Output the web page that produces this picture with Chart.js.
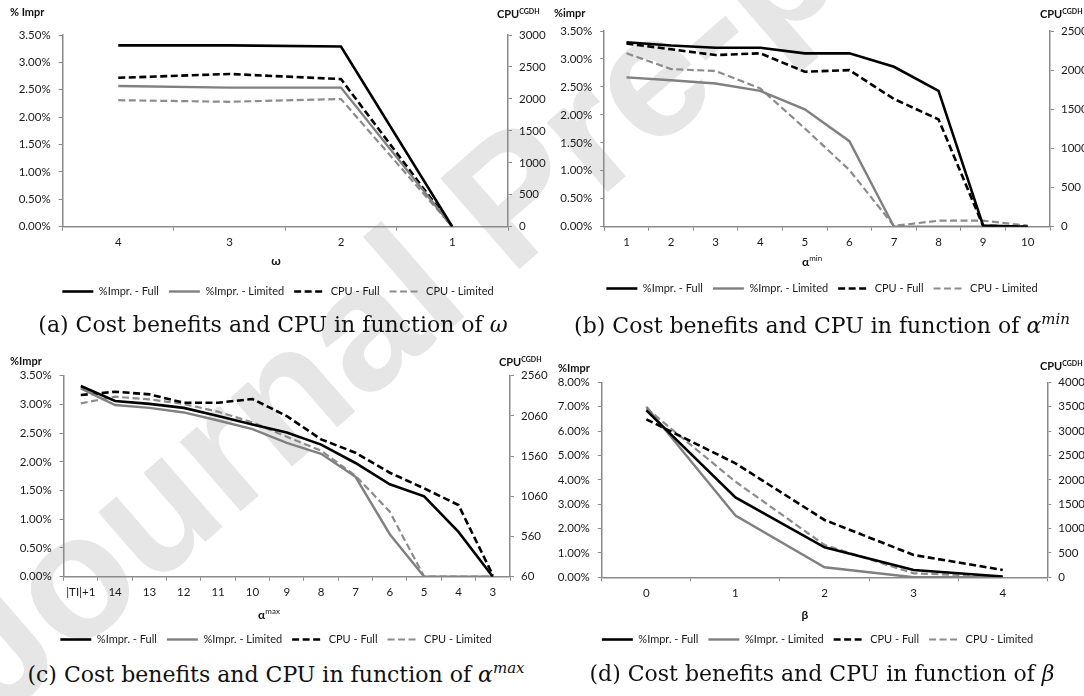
<!DOCTYPE html>
<html>
<head>
<meta charset="utf-8">
<script src="https://cdn.jsdelivr.net/npm/chart.js@4.4.1/dist/chart.umd.min.js"></script>
<style>
  body { margin: 0; background: #fff; }
  #page { position: relative; width: 1084px; height: 696px; overflow: hidden; background: #fff; }
  .wm { position: absolute; left: 511px; top: 196px; transform: translate(-50%, -50%) rotate(-41deg);
        font: bold 175px "Liberation Sans", Arial, sans-serif; color: #e6e6e6; white-space: nowrap; z-index: 0; }
  canvas { position: absolute; z-index: 1; }
  .lab { position: absolute; z-index: 2; font: bold 11px Lato, sans-serif; color: #111; white-space: nowrap;
         transform: translateY(-50%); }
  .lab sup { font-size: 7px; vertical-align: 4px; }
  .xt { transform: translate(-50%, -50%); font-size: 12px; }
  .xt sup { font-size: 8px; vertical-align: 5px; font-weight: normal; }
  .cap { position: absolute; z-index: 2; font: 22px "DejaVu Serif", serif; color: #111; white-space: nowrap;
         transform: translate(-50%, -50%); }
  .cap sup { font-size: 15px; vertical-align: 9px; }
</style>
</head>
<body>
<div id="page">
  <div class="wm">Journal Pre-proof</div>

  <div class="lab" style="left:10px; top:11px">% Impr</div>
  <div class="lab" style="left:497px; top:13px">CPU<sup>CGDH</sup></div>
  <div class="lab" style="left:554px; top:12px">%impr</div>
  <div class="lab" style="left:1040px; top:13px">CPU<sup>CGDH</sup></div>
  <div class="lab" style="left:10px; top:360px">%Impr</div>
  <div class="lab" style="left:499px; top:361px">CPU<sup>CGDH</sup></div>
  <div class="lab" style="left:558px; top:367px">%Impr</div>
  <div class="lab" style="left:1040px; top:365px">CPU<sup>CGDH</sup></div>

  <div class="lab xt" style="left:276px; top:260px">ω</div>
  <div class="lab xt" style="left:812px; top:261px">α<sup>min</sup></div>
  <div class="lab xt" style="left:269px; top:614px">α<sup>max</sup></div>
  <div class="lab xt" style="left:805px; top:614px">β</div>

  <div class="cap" style="left:273px; top:324px">(a) Cost benefits and CPU in function of <i>ω</i></div>
  <div class="cap" style="left:822px; top:324px">(b) Cost benefits and CPU in function of <i>α<sup>min</sup></i></div>
  <div class="cap" style="left:276px; top:673px">(c) Cost benefits and CPU in function of <i>α<sup>max</sup></i></div>
  <div class="cap" style="left:822px; top:673px">(d) Cost benefits and CPU in function of <i>β</i></div>
</div>

<script>
// (a) omega
const omegaLabels = ['4', '3', '2', '1'];
const omegaImprFull = [3.31, 3.31, 3.29, 0];
const omegaImprLimited = [2.57, 2.54, 2.54, 0];
const omegaCpuFull = [2330, 2390, 2310, 0];
const omegaCpuLimited = [1980, 1955, 1998, 0];
const omegaPctTicks = [0, 0.5, 1, 1.5, 2, 2.5, 3, 3.5];
const omegaCpuTicks = [0, 500, 1000, 1500, 2000, 2500, 3000];

// (b) alpha min
const aminLabels = ['1', '2', '3', '4', '5', '6', '7', '8', '9', '10'];
const aminImprFull = [3.30, 3.24, 3.20, 3.20, 3.10, 3.10, 2.86, 2.43, 0.02, 0];
const aminImprLimited = [2.67, 2.62, 2.56, 2.43, 2.10, 1.53, 0, 0, 0, 0];
const aminCpuFull = [2340, 2266, 2193, 2215, 1980, 2000, 1631, 1371, 10, 0];
const aminCpuLimited = [2215, 2014, 1989, 1767, 1256, 724, 10, 77, 77, 13];
const aminPctTicks = [0, 0.5, 1, 1.5, 2, 2.5, 3, 3.5];
const aminCpuTicks = [0, 500, 1000, 1500, 2000, 2500];

// (c) alpha max
const amaxLabels = ['|TI|+1', '14', '13', '12', '11', '10', '9', '8', '7', '6', '5', '4', '3'];
const amaxImprFull = [3.32, 3.06, 3.01, 2.94, 2.80, 2.65, 2.51, 2.30, 1.98, 1.61, 1.40, 0.78, 0];
const amaxImprLimited = [3.28, 2.99, 2.94, 2.86, 2.72, 2.57, 2.33, 2.14, 1.74, 0.74, 0, 0, 0];
const amaxCpuFull = [2319, 2361, 2328, 2224, 2224, 2270, 2058, 1768, 1602, 1353, 1159, 951, 81];
const amaxCpuLimited = [2216, 2299, 2266, 2208, 2112, 1980, 1801, 1627, 1316, 868, 60, 60, 60];
const amaxPctTicks = [0, 0.5, 1, 1.5, 2, 2.5, 3, 3.5];
const amaxCpuTicks = [60, 560, 1060, 1560, 2060, 2560];

// (d) beta
const betaLabels = ['0', '1', '2', '3', '4'];
const betaImprFull = [6.85, 3.28, 1.23, 0.30, 0.03];
const betaImprLimited = [7.00, 2.53, 0.41, 0, 0];
const betaCpuFull = [3241, 2338, 1176, 458, 150];
const betaCpuLimited = [3467, 1962, 663, 82, 14];
const betaPctTicks = [0, 1, 2, 3, 4, 5, 6, 7, 8];
const betaCpuTicks = [0, 500, 1000, 1500, 2000, 2500, 3000, 3500, 4000];

const AXIS = '#8a8a8a';
const TEXT = '#1a1a1a';
const FONT = 'Lato, sans-serif';

const panels = [
  { labels: omegaLabels, series: [omegaImprFull, omegaImprLimited, omegaCpuFull, omegaCpuLimited],
    pct: omegaPctTicks, cpu: omegaCpuTicks,
    box: { left: 0, top: 0, width: 550 }, area: { left: 62.6, right: 508, top: 35, bottom: 226.7 },
    legendY: 291, padLeft: 6 },
  { labels: aminLabels, series: [aminImprFull, aminImprLimited, aminCpuFull, aminCpuLimited],
    pct: aminPctTicks, cpu: aminCpuTicks,
    box: { left: 540, top: 0, width: 544 }, area: { left: 604.2, right: 1050, top: 31, bottom: 226.7 },
    legendY: 288.3, padLeft: 20 },
  { labels: amaxLabels, series: [amaxImprFull, amaxImprLimited, amaxCpuFull, amaxCpuLimited],
    pct: amaxPctTicks, cpu: amaxCpuTicks,
    box: { left: 0, top: 330, width: 550 }, area: { left: 63.6, right: 510, top: 375.7, bottom: 576.7 },
    legendY: 639, padLeft: 2 },
  { labels: betaLabels, series: [betaImprFull, betaImprLimited, betaCpuFull, betaCpuLimited],
    pct: betaPctTicks, cpu: betaCpuTicks,
    box: { left: 540, top: 330, width: 544 }, area: { left: 601.8, right: 1047.3, top: 382.3, bottom: 577.3 },
    legendY: 639, padLeft: 11 }
];

// legend samples drawn as short lines with the dataset's own dash
function lineLabels(chart) {
  const items = Chart.defaults.plugins.legend.labels.generateLabels(chart);
  items.forEach(it => {
    const ds = chart.data.datasets[it.datasetIndex];
    it.pointStyle = 'line';
    it.lineDash = ds.borderDash;
    it.lineWidth = ds.borderWidth;
    it.strokeStyle = ds.borderColor;
  });
  return items;
}

function makePanel(p) {
  const page = document.getElementById('page');
  const canvas = document.createElement('canvas');
  const height = Math.round(p.legendY - p.box.top + 15.5);
  const legendH = 31;
  const xHeight = height - legendH - (p.area.bottom - p.box.top);
  const leftW = p.area.left - p.box.left - p.padLeft;
  const rightW = p.box.left + p.box.width - p.area.right;
  canvas.width = p.box.width;
  canvas.height = height;
  canvas.style.left = p.box.left + 'px';
  canvas.style.top = p.box.top + 'px';
  canvas.style.width = p.box.width + 'px';
  canvas.style.height = height + 'px';
  page.appendChild(canvas);

  const styles = [
    { label: '%Impr. - Full', color: '#000000', width: 2.6, dash: [], axis: 'y' },
    { label: '%Impr. - Limited', color: '#808080', width: 2.4, dash: [], axis: 'y' },
    { label: 'CPU - Full', color: '#000000', width: 2.6, dash: [7, 3.5], axis: 'y1' },
    { label: 'CPU - Limited', color: '#8c8c8c', width: 2.2, dash: [7, 3.5], axis: 'y1' }
  ];

  const tickFont = { family: FONT, size: 11.5 };
  const grid = { drawOnChartArea: false, drawTicks: true, tickLength: 4, color: AXIS, lineWidth: 1 };
  const border = { display: true, color: AXIS, width: 1.5 };

  new Chart(canvas, {
    type: 'line',
    data: {
      labels: p.labels,
      datasets: styles.map((s, i) => ({
        label: s.label,
        data: p.series[i],
        yAxisID: s.axis,
        borderColor: s.color,
        backgroundColor: s.color,
        borderWidth: s.width,
        borderDash: s.dash,
        pointRadius: 0,
        tension: 0,
        fill: false
      }))
    },
    options: {
      responsive: false,
      animation: false,
      events: [],
      layout: { padding: { top: p.area.top - p.box.top, left: p.padLeft, right: 0, bottom: 0 } },
      plugins: {
        tooltip: { enabled: false },
        title: { display: false },
        legend: {
          position: 'bottom',
          labels: {
            usePointStyle: true,
            pointStyle: 'line',
            pointStyleWidth: 31,
            padding: 10,
            color: TEXT,
            font: { family: FONT, size: 11 },
            generateLabels: lineLabels
          }
        }
      },
      scales: {
        x: {
          type: 'category',
          offset: true,
          grid: Object.assign({ offset: true }, grid),
          border: border,
          ticks: { color: TEXT, font: tickFont, padding: 5, autoSkip: false, maxRotation: 0 },
          afterFit: s => { s.height = xHeight; }
        },
        y: {
          position: 'left',
          min: p.pct[0],
          max: p.pct[p.pct.length - 1],
          grid: grid,
          border: border,
          ticks: { color: TEXT, font: tickFont, padding: 8, callback: v => v.toFixed(2) + '%' },
          afterBuildTicks: s => { s.ticks = p.pct.map(v => ({ value: v })); },
          afterFit: s => { s.width = leftW; }
        },
        y1: {
          position: 'right',
          min: p.cpu[0],
          max: p.cpu[p.cpu.length - 1],
          grid: grid,
          border: border,
          ticks: { color: TEXT, font: tickFont, padding: 7, callback: v => String(v) },
          afterBuildTicks: s => { s.ticks = p.cpu.map(v => ({ value: v })); },
          afterFit: s => { s.width = rightW; }
        }
      }
    }
  });
}

panels.forEach(makePanel);
</script>
</body>
</html>
